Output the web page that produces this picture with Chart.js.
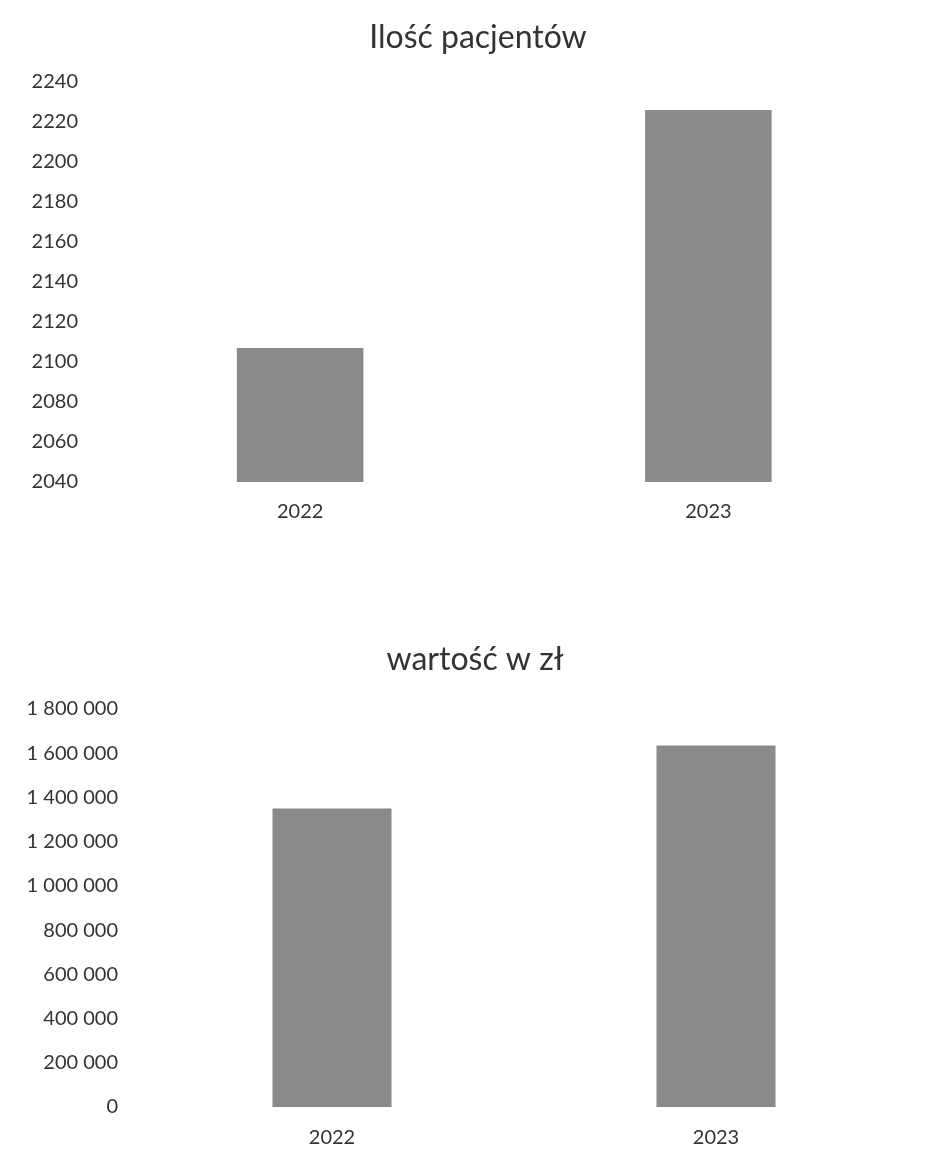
<!DOCTYPE html>
<html>
<head>
<meta charset="utf-8">
<script src="https://cdn.jsdelivr.net/npm/chart.js@4"></script>
<style>
  html, body { margin: 0; padding: 0; background: #ffffff; }
  body { width: 933px; height: 1165px; position: relative; overflow: hidden; }
  .box { position: absolute; left: 0; width: 940px; }
  #b1 { top: 0; height: 560px; }
  #b2 { top: 600px; height: 565px; }
</style>
</head>
<body>
<div class="box" id="b1"><canvas id="c1"></canvas></div>
<div class="box" id="b2"><canvas id="c2"></canvas></div>
<script>
const categories = ['2022', '2023'];
const patientCounts = [2107, 2226];
const valuesPLN = [1350000, 1635000];
const title1 = 'Ilość pacjentów';
const title2 = 'wartość w zł';

const FONT = 'Lato, "Open Sans", sans-serif';
const TEXT = '#333333';
const BAR = '#8a8a8a';

function plain(v) { return String(v); }
function grouped(v) {
  return String(v).replace(/\B(?=(\d{3})+(?!\d))/g, ' ');
}

function makeChart(id, values, title, cfg) {
  return new Chart(document.getElementById(id), {
    type: 'bar',
    data: {
      labels: categories,
      datasets: [{
        data: values,
        backgroundColor: BAR,
        borderWidth: 0,
        categoryPercentage: 1,
        barPercentage: 0.31
      }]
    },
    options: {
      responsive: true,
      maintainAspectRatio: false,
      animation: false,
      layout: { padding: cfg.padding },
      plugins: {
        legend: { display: false },
        tooltip: { enabled: false },
        title: {
          display: true,
          text: title,
          color: TEXT,
          font: { family: FONT, size: 32, weight: 'normal', lineHeight: 1.2 },
          padding: cfg.titlePadding
        }
      },
      scales: {
        x: {
          grid: { display: false, drawTicks: false },
          border: { display: false },
          ticks: { color: TEXT, font: { family: FONT, size: 20 }, padding: cfg.xPad },
          afterFit: s => { s.height = cfg.xHeight; }
        },
        y: {
          min: cfg.min, max: cfg.max,
          grid: { display: false, drawTicks: false },
          border: { display: false },
          ticks: {
            stepSize: cfg.step,
            color: TEXT,
            font: { family: FONT, size: 20 },
            padding: cfg.yPad,
            callback: v => cfg.format(v)
          },
          afterFit: s => { s.width = cfg.yWidth; }
        },
        yRight: {
          position: 'right',
          display: true,
          grid: { display: false, drawTicks: false },
          border: { display: false },
          ticks: { display: false },
          afterFit: s => { s.width = cfg.rWidth; }
        }
      }
    }
  });
}

makeChart('c1', patientCounts, title1, {
  padding: { left: 20, right: 4, top: 0, bottom: 36 },
  titlePadding: { top: 18.6, bottom: 25 },
  xPad: 18, xHeight: 42,
  yPad: 18, yWidth: 76, rWidth: 23.5,
  min: 2040, max: 2240, step: 20,
  format: plain
});

makeChart('c2', valuesPLN, title2, {
  padding: { left: 18, right: 8, top: 0, bottom: 15 },
  titlePadding: { top: 40.3, bottom: 30.3 },
  xPad: 19, xHeight: 43,
  yPad: 22, yWidth: 122, rWidth: 24,
  min: 0, max: 1800000, step: 200000,
  format: grouped
});
</script>
</body>
</html>
